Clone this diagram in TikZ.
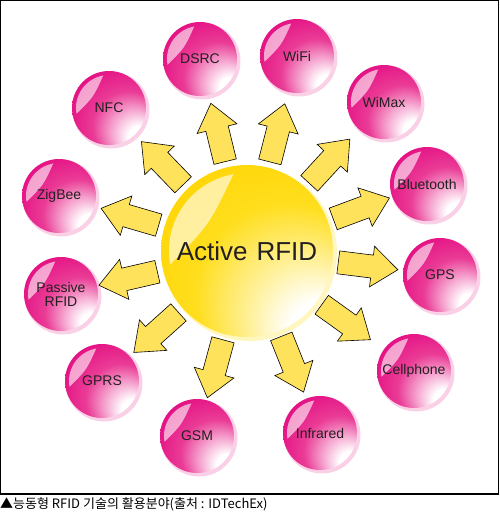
\documentclass[tikz,border=0pt]{standalone}
\usepackage{fontspec}
\setmainfont{Liberation Sans}
\newfontfamily\krfont{Noto Sans CJK KR}
\usetikzlibrary{calc}

\definecolor{pinkdeep}{RGB}{226,0,125}
\definecolor{pinkmid}{RGB}{234,60,150}
\definecolor{pinklight}{RGB}{246,170,210}
\definecolor{sundeep}{RGB}{255,212,0}
\definecolor{sunmid}{RGB}{255,222,30}
\definecolor{sunlight}{RGB}{255,240,150}
\definecolor{arrowfill}{RGB}{255,226,92}
\definecolor{labeltext}{RGB}{35,31,32}

\pgfdeclareradialshading{pinkball}{\pgfpoint{25bp}{-24bp}}{color(0bp)=(white); color(8bp)=(white); color(15bp)=(pinklight); color(24bp)=(pinkmid); color(40bp)=(pinkdeep); color(50bp)=(pinkdeep)}
\pgfdeclareradialshading{sunball}{\pgfpoint{26bp}{-29bp}}{color(0bp)=(white); color(9bp)=(white); color(17bp)=(sunlight); color(27bp)=(sunmid); color(40bp)=(sundeep); color(50bp)=(sundeep)}

\tikzset{
  ball/.style={circle, minimum size=74pt, inner sep=0pt, shading=pinkball},
  balllabel/.style={inner sep=0pt, font=\fontsize{14}{16}\selectfont, text=labeltext, align=center},
  sunstyle/.style={circle, minimum size=172pt, inner sep=0pt, shading=sunball},
  arrowstyle/.style={fill=arrowfill, draw=black, line width=0.6pt, line join=miter},
  gloss/.style={fill=white, opacity=0.6},
}

\begin{document}
\begin{tikzpicture}[x=1pt,y=1pt]
\useasboundingbox (0,0) rectangle (500,-515);
\draw[line width=1.2pt] (0.6,-0.6) rectangle (498.6,-494);

% sun glow and sun
\fill[sunlight, opacity=0.6] (249.5,-253.5) circle (87.5);
\node[sunstyle] (sun) at (247,-251) {};
\fill[gloss] ($(sun.center)+(100:78)$) arc[start angle=100, end angle=190, radius=78]
  .. controls ($(sun.center)+(145:46)$) .. ($(sun.center)+(100:78)$) -- cycle;
\node[font=\fontsize{26}{28}\selectfont, text=labeltext] (suntext) at (247,-251.5) {Active\hspace{9pt}RFID};

% balls
\foreach \n/\x/\y/\t in {nfc/109/108/NFC, dsrc/200/59/DSRC, wifi/297/56/WiFi,
  wimax/384/102/WiMax, bt/427/184/Bluetooth, gps/440/275/GPS,
  cell/414/371/Cellphone, ir/320/433/Infrared, gsm/197/436/GSM,
  gprs/102/381/GPRS, passive/61/294/{Passive\\[-2pt]RFID}, zigbee/59/196/ZigBee}{
  \fill[pinklight, opacity=0.55] (\x+2,-\y-2) circle (38.5);
  \node[ball] (\n) at (\x,-\y) {};
  \fill[gloss] ($(\n.center)+(100:33)$) arc[start angle=100, end angle=190, radius=33]
    .. controls ($(\n.center)+(145:19)$) .. ($(\n.center)+(100:33)$) -- cycle;
  \node[balllabel] (\n-text) at (\n.center) {\t};
  \path ($(sun.center)!92pt!(\n.center)$) coordinate (p1)
        ($(sun.center)!126pt!(\n.center)$) coordinate (p2)
        ($(sun.center)!152pt!(\n.center)$) coordinate (p3);
  \draw[arrowstyle] ($(p1)!11.5pt!90:(\n.center)$) -- ($(p2)!11.5pt!90:(\n.center)$)
    -- ($(p2)!20.5pt!90:(\n.center)$) -- (p3) -- ($(p2)!20.5pt!-90:(\n.center)$)
    -- ($(p2)!11.5pt!-90:(\n.center)$) -- ($(p1)!11.5pt!-90:(\n.center)$) -- cycle;
}

\node[anchor=west, inner sep=0pt, font=\krfont\fontsize{13}{14}\selectfont] (cap) at (0,-504.5)
  {▲능동형 RFID 기술의 활용분야(출처 : IDTechEx)};
\end{tikzpicture}
\end{document}
